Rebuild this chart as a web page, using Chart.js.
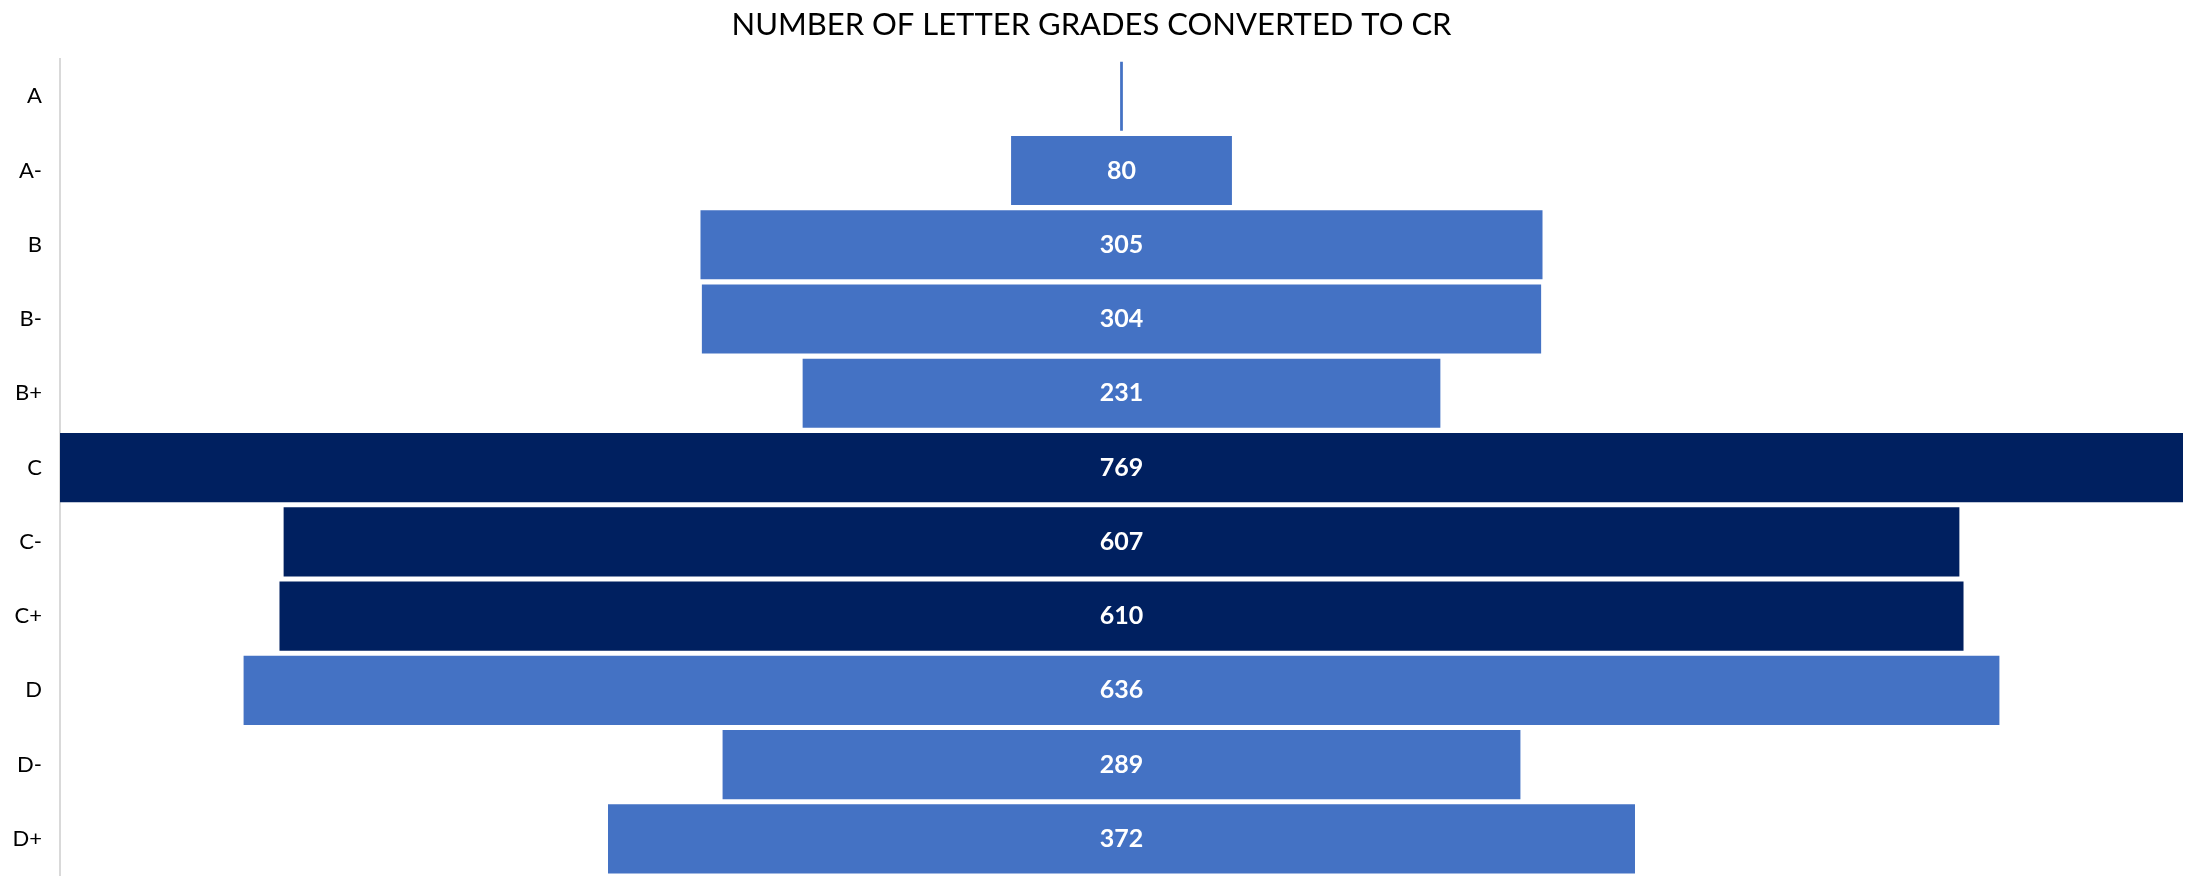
<!DOCTYPE html>
<html>
<head>
<meta charset="utf-8">
<script src="https://cdn.jsdelivr.net/npm/chart.js@4.4.1/dist/chart.umd.min.js"></script>
<style>
  html, body { margin: 0; padding: 0; background: #ffffff; overflow: hidden; }
  #graficoFunnel { display: block; }
</style>
</head>
<body>
<canvas id="graficoFunnel" width="2199" height="876"></canvas>
<script>
const grados = ["A", "A-", "B", "B-", "B+", "C", "C-", "C+", "D", "D-", "D+"];
const cantidades = [1, 80, 305, 304, 231, 769, 607, 610, 636, 289, 372];
const colores = ["#4472C4", "#4472C4", "#4472C4", "#4472C4", "#4472C4", "#002060", "#002060", "#002060", "#4472C4", "#4472C4", "#4472C4"];
const titulo = "NUMBER OF LETTER GRADES CONVERTED TO CR";

const maximo = Math.max(...cantidades);
// barras flotantes centradas en 0 para el embudo
const rangos = cantidades.map((v) => [-v / 2, v / 2]);

const etiquetasValor = {
  id: "etiquetasValor",
  afterDatasetsDraw(chart) {
    const ctx = chart.ctx;
    const meta = chart.getDatasetMeta(0);
    ctx.save();
    ctx.fillStyle = "#ffffff";
    ctx.font = "bold 25px Lato, sans-serif";
    ctx.textAlign = "center";
    ctx.textBaseline = "middle";
    meta.data.forEach((bar, i) => {
      if (cantidades[i] < 20) return;
      ctx.fillText(String(cantidades[i]), chart.scales.x.getPixelForValue(0), bar.y);
    });
    ctx.restore();
  }
};

new Chart(document.getElementById("graficoFunnel"), {
  type: "bar",
  data: {
    labels: grados,
    datasets: [
      {
        data: rangos,
        backgroundColor: colores,
        borderWidth: 0,
        barPercentage: 0.93,
        categoryPercentage: 1
      }
    ]
  },
  options: {
    indexAxis: "y",
    responsive: false,
    maintainAspectRatio: false,
    animation: false,
    layout: { padding: { left: 0, right: 16, top: 0, bottom: 0 } },
    plugins: {
      legend: { display: false },
      tooltip: { enabled: false },
      title: {
        display: true,
        text: titulo,
        color: "#000000",
        font: { family: "Lato, sans-serif", size: 31, weight: "normal" },
        padding: { top: 6, bottom: 16 }
      }
    },
    scales: {
      x: {
        display: false,
        min: -maximo / 2,
        max: maximo / 2
      },
      y: {
        afterFit(scale) {
          scale.width = 60;
          // sin margen extra abajo: las barras llegan al borde
          scale.paddingTop = 0;
          scale.paddingBottom = 0;
        },
        grid: { display: false, drawTicks: false },
        border: { display: true, color: "#d9d9d9", width: 2 },
        ticks: {
          color: "#000000",
          padding: 18,
          font: { family: "Lato, sans-serif", size: 22 }
        }
      }
    }
  },
  plugins: [etiquetasValor]
});
</script>
</body>
</html>
